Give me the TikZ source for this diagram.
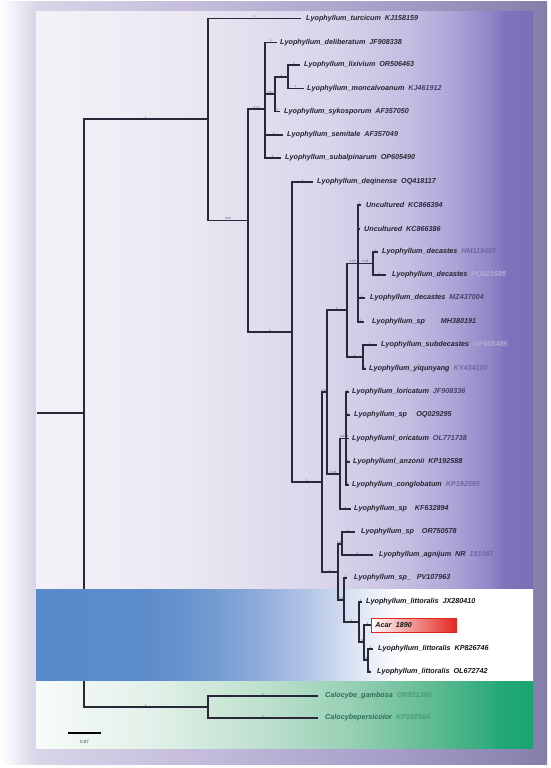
\documentclass[tikz,border=0pt]{standalone}
\usepackage{fontspec}
\setmainfont{Liberation Sans}
\usetikzlibrary{calc}
% frame colours
\definecolor{fr0}{HTML}{FFFFFF}
\definecolor{fr1}{HTML}{F6F4FA}
\definecolor{fr2}{HTML}{D9D4E7}
\definecolor{fr3}{HTML}{C4BCDB}
\definecolor{fr4}{HTML}{A49CC6}
\definecolor{fr5}{HTML}{847EAB}
% purple panel
\definecolor{pu0}{HTML}{F4F2F8}
\definecolor{pu1}{HTML}{EBE8F2}
\definecolor{pu2}{HTML}{D8D3EA}
\definecolor{pu3}{HTML}{C4BDE1}
\definecolor{pu4}{HTML}{ACA3D6}
\definecolor{pu5}{HTML}{9085C7}
\definecolor{pu6}{HTML}{7F72BC}
\definecolor{pu7}{HTML}{7A6FB5}
% blue band
\definecolor{bl0}{HTML}{5A8AC9}
\definecolor{bl1}{HTML}{5B8BCA}
\definecolor{bl2}{HTML}{6D97CF}
\definecolor{bl3}{HTML}{8EACDA}
\definecolor{bl4}{HTML}{B5C6E7}
\definecolor{bl5}{HTML}{D9E1F2}
\definecolor{bl6}{HTML}{EFF2FA}
\definecolor{bl7}{HTML}{FFFFFF}
% green band
\definecolor{gr0}{HTML}{F7FBF9}
\definecolor{gr1}{HTML}{E2F1E9}
\definecolor{gr2}{HTML}{BFE1CF}
\definecolor{gr3}{HTML}{97D0B5}
\definecolor{gr4}{HTML}{62BB93}
\definecolor{gr5}{HTML}{2DAB7C}
\definecolor{gr6}{HTML}{25A877}
\definecolor{gr7}{HTML}{19A572}
% text and lines
\definecolor{treec}{HTML}{282838}
\definecolor{namec}{HTML}{23212F}
\definecolor{dk}{HTML}{2A2838}
\definecolor{md}{HTML}{45406A}
\definecolor{lt}{HTML}{6F68A0}
\definecolor{ft}{HTML}{B2ADD6}
\definecolor{blk}{HTML}{141414}
\definecolor{gname}{HTML}{2C6E55}
\definecolor{gacc}{HTML}{4A9C7B}
\definecolor{supc}{HTML}{5A5575}
\definecolor{acred}{HTML}{E3261F}

\pgfdeclarehorizontalshading{frameshade}{100bp}{color(0bp)=(fr0); color(25bp)=(fr0); color(25.9bp)=(fr1); color(28.3bp)=(fr2); color(43.3bp)=(fr3); color(61.6bp)=(fr4); color(75bp)=(fr5); color(100bp)=(fr5)}
\pgfdeclarehorizontalshading{purpleshade}{100bp}{color(0bp)=(pu0); color(25bp)=(pu0); color(40bp)=(pu1); color(55.1bp)=(pu2); color(62.6bp)=(pu3); color(67.2bp)=(pu4); color(70.7bp)=(pu5); color(72.2bp)=(pu6); color(75bp)=(pu7); color(100bp)=(pu7)}
\pgfdeclarehorizontalshading{blueshade}{100bp}{color(0bp)=(bl0); color(25bp)=(bl0); color(35.5bp)=(bl1); color(41.5bp)=(bl2); color(47.5bp)=(bl3); color(52.6bp)=(bl4); color(56.6bp)=(bl5); color(59.6bp)=(bl6); color(61.6bp)=(bl7); color(75bp)=(bl7); color(100bp)=(bl7)}
\pgfdeclarehorizontalshading{greenshade}{100bp}{color(0bp)=(gr0); color(25bp)=(gr0); color(36.5bp)=(gr1); color(47.5bp)=(gr2); color(56.6bp)=(gr3); color(64.6bp)=(gr4); color(70.9bp)=(gr5); color(71.3bp)=(gr6); color(75bp)=(gr7); color(100bp)=(gr7)}

\newcommand\labfont{\fontsize{7.2}{8}\selectfont\bfseries\itshape}
\newcommand\supfont{\fontsize{3}{3.5}\selectfont}
\newcommand\lgap{\hspace{0.55em}}

% leaf: name, parent, tip x, y, label x, name text, accession, accession colour, support
\newcommand\leaf[9]{%
  \coordinate (#1) at (#3,#4);
  \draw[br] (#2) |- (#1);
  \node[lab] (#1l) at (#5,#4) {#6\textcolor{#8}{#7}};
  \node[sup] (#1s) at ($(#2|-#1)!0.5!(#1)$) {#9};
}
% internal node: name, parent, x, y, support
\newcommand\inode[5]{%
  \coordinate (#1) at (#3,#4);
  \draw[br] (#2) |- (#1);
  \node[sup] (#1s) at ($(#2|-#1)!0.5!(#1)$) {#5};
}

\begin{document}
\begin{tikzpicture}[x=1pt,y=-1pt,
  br/.style={line width=1.2pt,draw=treec},
  lab/.style={anchor=west,inner sep=0pt,font=\labfont,text=namec},
  sup/.style={anchor=south,inner sep=0pt,font=\supfont,text=supc,yshift=0.5pt},
  acarbox/.style={draw=acred,line width=0.9pt,left color=white,middle color=acred!30,right color=acred,
    minimum width=85pt,minimum height=14pt,anchor=west,inner xsep=4pt,inner ysep=0pt,
    text width=77pt,align=left,font=\labfont,text=blk}]
\useasboundingbox (0,0) rectangle (550,768);
\fill[white] (0,0) rectangle (550,768);
% frame and coloured panels
\shade[shading=frameshade] (0,2) rectangle (547,764);
\shade[shading=purpleshade] (36,12) rectangle (533,589);
\shade[shading=greenshade] (36,680) rectangle (533,748);
% root and its two edges (partly hidden by the blue band)
\coordinate (root) at (84,413);
\coordinate (rs) at (37,413);
\draw[br] (rs) -- (root);
\inode{Q}{root}{208}{119}{1}
\inode{out}{root}{208}{707}{1}
\shade[shading=blueshade] (36,589) rectangle (533,680);

% upper clade
\leaf{turc}{Q}{301}{18.5}{306}{Lyophyllum\_turcicum\lgap}{KJ158159}{dk}{1}
\inode{P}{Q}{248}{220.5}{0.98}
\inode{R}{P}{265}{109}{0.73}
\leaf{delib}{R}{277}{42.5}{280}{Lyophyllum\_deliberatum\lgap}{JF908338}{dk}{1}
\inode{ls}{R}{275}{94}{0.95}
\inode{lixmon}{ls}{288}{77}{1}
\leaf{lixiv}{lixmon}{300}{65}{304}{Lyophyllum\_lixivium\lgap}{OR506463}{dk}{1}
\leaf{moncal}{lixmon}{304}{88.5}{307}{Lyophyllum\_moncalvoanum\lgap}{KJ461912}{md}{1}
\leaf{sykos}{ls}{280}{111.5}{284}{Lyophyllum\_sykosporum\lgap}{AF357050}{dk}{1}
\leaf{semit}{R}{283}{135}{287}{Lyophyllum\_semitale\lgap}{AF357049}{dk}{1}
\leaf{subalp}{R}{281}{158}{285}{Lyophyllum\_subalpinarum\lgap}{OP605490}{dk}{1}

\inode{O}{P}{292}{332}{1}
\leaf{deqin}{O}{313}{182}{317}{Lyophyllum\_deqinense\lgap}{OQ418117}{dk}{1}
\inode{D}{O}{322}{482}{1}
\inode{E}{D}{327}{392}{0.83}
\inode{A}{E}{347}{310}{1}
\inode{B}{A}{358}{263.5}{0.93}
\leaf{unca}{B}{361}{205}{366}{Uncultured\lgap}{KC866394}{dk}{1}
\leaf{uncb}{B}{360}{229}{364}{Uncultured\lgap}{KC866386}{dk}{1}
\inode{C}{B}{373}{263.5}{0.96}
\leaf{deca}{C}{378}{252}{382}{Lyophyllum\_decastes\lgap}{HM119485}{lt}{1}
\leaf{decb}{C}{386}{275}{392}{Lyophyllum\_decastes\lgap}{PQ821689}{ft}{1}
\leaf{decc}{B}{365}{298}{370}{Lyophyllum\_decastes\lgap}{MZ437004}{md}{1}
\leaf{spMH}{B}{364}{322}{372}{Lyophyllum\_sp\hspace{2.2em}}{MH380191}{dk}{1}
\inode{N}{A}{363}{357}{1}
\leaf{subdec}{N}{377}{345}{381}{Lyophyllum\_subdecastes\lgap}{OP605485}{ft}{1}
\leaf{yiqun}{N}{366}{369}{369}{Lyophyllum\_yiqunyang\lgap}{KY434104}{lt}{1}

\inode{F}{E}{340}{474}{0.98}
\inode{G}{F}{346}{438.5}{0.93}
\leaf{loric}{G}{349}{392}{352}{Lyophyllum\_loricatum\lgap}{JF908336}{md}{1}
\leaf{spOQ}{G}{350}{415}{354}{Lyophyllum\_sp\hspace{1.3em}}{OQ029295}{dk}{1}
\leaf{oric}{G}{349}{438.5}{352}{Lyophylluml\_oricatum\lgap}{OL771738}{md}{1}
\leaf{anzon}{G}{350}{462}{353}{Lyophylluml\_anzonii\lgap}{KP192588}{dk}{1}
\leaf{conglo}{G}{349}{485}{352}{Lyophyllum\_conglobatum\lgap}{KP192595}{lt}{1}
\leaf{spKF}{F}{351}{509}{354}{Lyophyllum\_sp\hspace{1.1em}}{KF632894}{dk}{1}

\inode{I}{D}{338}{572}{1}
\inode{H}{I}{342}{544}{0.62}
\leaf{spOR}{H}{355}{532}{361}{Lyophyllum\_sp\hspace{1.1em}}{OR750578}{dk}{1}
\leaf{agnij}{H}{373}{555}{379}{Lyophyllum\_agnijum\lgap}{NR\lgap\textcolor{lt}{191087}}{dk}{1}
\inode{J}{I}{344}{600}{0.99}
\leaf{spPV}{J}{347}{578}{354}{Lyophyllum\_sp\_\hspace{0.8em}}{PV107963}{dk}{1}
\inode{K}{J}{359}{622}{1}
\leaf{littJX}{K}{362}{602}{366}{\textcolor{blk}{Lyophyllum\_littoralis\lgap}}{JX280410}{blk}{1}
\inode{L}{K}{364}{642}{0.94}
\coordinate (acar) at (371,625);
\draw[br] (L) |- (acar);
\node[sup] (acars) at ($(L|-acar)!0.5!(acar)$) {1};
\node[acarbox] (acarl) at (acar) {Acar\hspace{0.6em}1890};
\inode{M}{L}{368}{660}{0.98}
\leaf{littKP}{M}{373}{649}{378}{\textcolor{blk}{Lyophyllum\_littoralis\lgap}}{KP826746}{blk}{1}
\leaf{littOL}{M}{371}{672}{377}{\textcolor{blk}{Lyophyllum\_littoralis\lgap}}{OL672742}{blk}{1}

% outgroup
\leaf{gamb}{out}{318}{696}{325}{\textcolor{gname}{Calocybe\_gambosa\lgap}}{OR921386}{gacc}{1}
\leaf{pers}{out}{318}{718}{325}{\textcolor{gname}{Calocybepersicolor\lgap}}{KP192564}{gacc}{1}

% scale bar
\coordinate (sba) at (68,733);
\coordinate (sbb) at (101,733);
\draw[line width=1.8pt,black] (sba) -- (sbb);
\node[font=\fontsize{4.5}{5}\selectfont,text=black!80,inner sep=0pt] (sbl) at (84.5,742) {0.07};
\end{tikzpicture}
\end{document}
